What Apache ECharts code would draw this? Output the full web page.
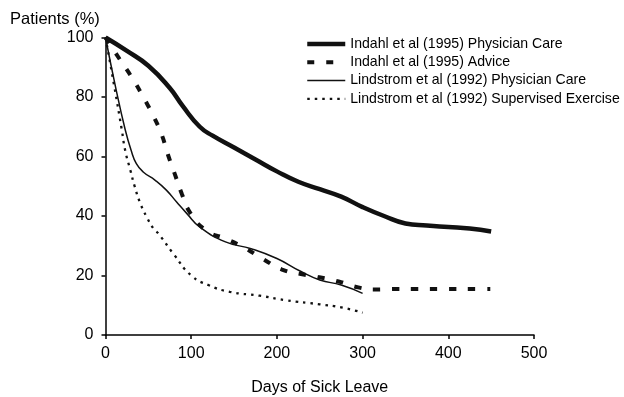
<!DOCTYPE html>
<html><head><meta charset="utf-8">
<script src="https://cdn.jsdelivr.net/npm/echarts@6/dist/echarts.min.js"></script>
<style>html,body{margin:0;padding:0;background:#fff}#c{width:624px;height:397px}</style>
</head><body><div id="c"></div>
<script>
var seriesNames = ["Indahl et al (1995) Physician Care","Indahl et al (1995) Advice","Lindstrom et al (1992) Physician Care","Lindstrom et al (1992) Supervised Exercise"];
var xTicks = [0,100,200,300,400,500];
var yTicks = [0,20,40,60,80,100];

var indahlCareDays = [0,25,50,75,90,110,125,150,175,200,225,250,275,300,325,350,375,400,425,450];
var indahlCareVals = [100,95.5,90.5,83,77,70,67,63,59,55,51.5,49,46.5,43,40,37.5,36.8,36.3,35.8,34.8];

var indahlAdviceDays = [0,17,32,45,57,66,73,81,89,99,118,139,161,184,206,228,248,272,295,316,340,360,380,405,427,449];
var indahlAdviceVals = [100,92.5,86,79.5,73,67,60.5,54,47.5,41,35,32.5,29.5,25.5,22,20.5,19.5,18,16,15.3,15.5,15.5,15.5,15.5,15.5,15.5];

var lindCareDays = [0,12,23,30,36,44,58,71,83,95,110,140,170,200,227,250,275,300];
var lindCareVals = [100,83,69,62,57.6,54.8,52,48.7,44.7,40.8,36.3,31.3,29,25.7,21.5,18.5,16.8,14];

var lindExDays = [0,10,19,23,29,34,40,48,56,62,80,100,120,145,180,210,250,275,300];
var lindExVals = [100,84,69,62,55.4,50,44.7,39.7,35.8,34,27,20,16.8,14.5,13.2,11.7,10.3,9.3,7.5];

function pairs(xs, ys){ return xs.map(function(x,i){ return [x, ys[i]]; }); }

var lineStyles = [
  {color:'#111', width:4.5},
  {color:'#111', width:4, type:[7,12]},
  {color:'#111', width:1.5},
  {color:'#111', width:2.3, type:[2.5,5]}
];

var chart = echarts.init(document.getElementById('c'), null, {renderer:'canvas'});
var font = 'Arial, "Liberation Sans", sans-serif';
chart.setOption({
  animation:false,
  backgroundColor:'#fff',
  title:{text:'Patients (%)', left:5, top:6, textStyle:{fontFamily:font, fontSize:16.5, fontWeight:'normal', color:'#000'}},
  legend:{
    orient:'vertical', left:305, top:35, padding:0, itemWidth:38, itemHeight:10, itemGap:0.3,
    itemStyle:{opacity:0},
    textStyle:{fontFamily:font, fontSize:14.1, color:'#000', lineHeight:18},
    data:seriesNames.map(function(n,i){ return {name:n, lineStyle:lineStyles[i]}; })
  },
  grid:{left:105.5, right:90, top:37.5, bottom:62, containLabel:false, outerBoundsMode:'none'},
  xAxis:{
    type:'value', min:xTicks[0], max:xTicks[xTicks.length-1], interval:100,
    name:'Days of Sick Leave', nameLocation:'middle', nameGap:45,
    nameTextStyle:{fontFamily:font, fontSize:16, color:'#000'},
    axisLine:{lineStyle:{color:'#000', width:1.5}},
    axisTick:{show:true, length:4, lineStyle:{color:'#000', width:1.5}},
    axisLabel:{fontFamily:font, fontSize:16, color:'#000', margin:11},
    splitLine:{show:false}
  },
  yAxis:{
    type:'value', min:yTicks[0], max:yTicks[yTicks.length-1], interval:20,
    axisLine:{show:true, lineStyle:{color:'#000', width:1.5}},
    axisTick:{show:true, length:4, lineStyle:{color:'#000', width:1.5}},
    axisLabel:{fontFamily:font, fontSize:16, color:'#000', margin:12},
    splitLine:{show:false}
  },
  series:[
    {name:seriesNames[0], type:'line', smooth:true, symbol:'none', data:pairs(indahlCareDays, indahlCareVals),
     lineStyle:lineStyles[0], itemStyle:{color:'#111'}},
    {name:seriesNames[1], type:'line', smooth:true, symbol:'none', data:pairs(indahlAdviceDays, indahlAdviceVals),
     lineStyle:lineStyles[1], itemStyle:{color:'#111'}},
    {name:seriesNames[2], type:'line', smooth:true, symbol:'none', data:pairs(lindCareDays, lindCareVals),
     lineStyle:lineStyles[2], itemStyle:{color:'#111'}},
    {name:seriesNames[3], type:'line', smooth:true, symbol:'none', data:pairs(lindExDays, lindExVals),
     lineStyle:lineStyles[3], itemStyle:{color:'#111'}}
  ]
});
</script></body></html>
